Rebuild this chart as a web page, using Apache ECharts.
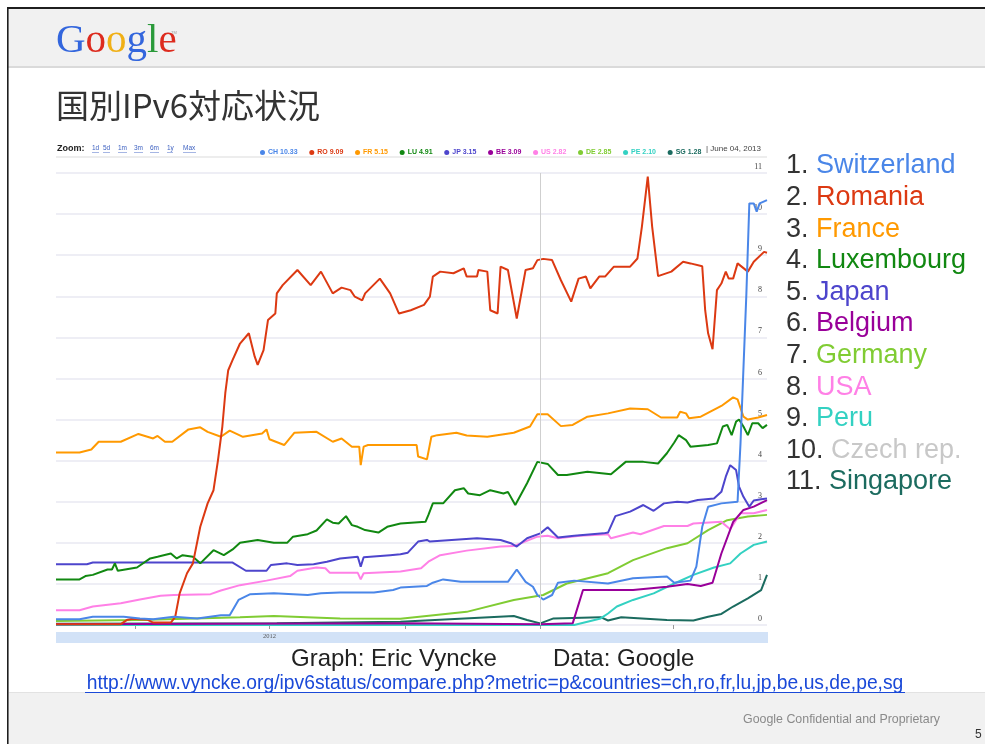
<!DOCTYPE html>
<html><head><meta charset="utf-8">
<script src="https://cdn.jsdelivr.net/npm/echarts@6/dist/echarts.min.js"></script>
<style>html,body{margin:0;padding:0;background:#fff}#c{width:985px;height:744px}</style>
</head><body><div id="c"></div>
<script>
// ---- time frame ----
const startDate = '2012-02-07';
const endDate = '2013-06-04';
const quarterStarts = ['2012-04-01', '2012-07-01', '2012-10-01', '2013-01-01', '2013-04-01'];
const yearLabelDates = ['2012-07-01'];
const yearLabelTexts = ['2012'];
const yearBoundary = '2013-01-01';
const lastDateText = 'June 04, 2013';

// ---- series (x = days since startDate, y = % IPv6) ----
const codes = ['CH', 'RO', 'FR', 'LU', 'JP', 'BE', 'US', 'DE', 'PE', 'SG'];
const latestValues = ['10.33', '9.09', '5.15', '4.91', '3.15', '3.09', '2.82', '2.85', '2.10', '1.28'];
const seriesColors = ['#4a86e8', '#dc3912', '#ff9900', '#118811', '#4d45cc', '#990099', '#ff80e6', '#80cc33', '#33d1c2', '#1b6b5f'];

const CH = [[0,0.14],[16,0.14],[25,0.2],[46,0.2],[57,0.16],[66,0.14],[80,0.2],[96,0.16],[112,0.24],[118,0.24],[124,0.61],[132,0.75],[148,0.77],[171,0.73],[180,0.77],[193,0.79],[216,0.79],[229,0.85],[234,0.91],[252,0.95],[256,1.03],[263,1.11],[275,1.05],[307,1.05],[313,1.35],[319,1.05],[324,0.93],[327,0.73],[331,0.62],[337,0.73],[341,1.03],[352,1.08],[375,1.01],[392,1.14],[415,1.18],[420,1.03],[431,1.08],[435,1.42],[439,2.39],[443,2.88],[452,2.96],[463,3.0],[465,4.42],[469,8.07],[471,10.26],[474,10.26],[476,10.06],[478,10.26],[483,10.34]];
const RO = [[0,0.02],[44,0.02],[48,0.12],[52,0.15],[62,0.13],[66,0.06],[78,0.06],[81,0.2],[84,0.77],[89,1.26],[93,1.5],[98,2.39],[103,2.96],[107,3.28],[110,4.0],[113,4.83],[115,5.64],[117,6.2],[120,6.45],[125,6.85],[131,7.1],[135,6.53],[137,6.33],[141,6.69],[144,7.42],[149,7.58],[150,8.07],[154,8.27],[164,8.64],[173,8.27],[180,8.6],[188,8.07],[194,8.21],[200,8.15],[203,7.99],[208,7.9],[210,8.07],[220,8.43],[227,8.07],[233,7.58],[241,7.66],[250,7.79],[254,7.99],[256,8.48],[261,8.6],[270,8.56],[277,8.68],[279,8.48],[286,8.48],[287,8.64],[293,8.6],[295,7.66],[300,7.58],[302,8.72],[307,8.64],[313,7.46],[319,8.64],[324,8.68],[327,8.88],[331,8.91],[337,8.88],[343,8.39],[350,7.87],[355,8.43],[360,8.48],[363,8.19],[369,8.48],[373,8.48],[379,8.72],[390,8.72],[395,8.92],[398,9.69],[402,10.91],[405,9.69],[409,8.49],[418,8.6],[426,8.84],[431,8.8],[439,8.73],[441,7.66],[443,7.1],[446,6.71],[449,8.15],[452,8.31],[455,8.6],[457,8.43],[460,8.43],[463,8.8],[470,8.6],[474,8.84],[481,9.08],[483,9.06]];
const FR = [[0,4.2],[16,4.2],[24,4.27],[29,4.46],[44,4.46],[56,4.65],[66,4.54],[69,4.6],[74,4.46],[79,4.46],[90,4.76],[98,4.81],[103,4.7],[112,4.58],[118,4.73],[127,4.58],[140,4.66],[143,4.76],[145,4.52],[155,4.38],[162,4.68],[177,4.7],[188,4.46],[194,4.54],[201,4.34],[206,4.34],[207,3.89],[209,4.34],[212,4.38],[234,4.38],[245,4.38],[246,4.1],[252,4.03],[255,4.58],[259,4.62],[272,4.68],[279,4.61],[293,4.58],[311,4.68],[322,4.83],[327,5.13],[334,5.13],[343,4.84],[351,4.87],[361,5.07],[375,5.15],[390,5.27],[402,5.25],[411,5.05],[422,5.05],[424,5.19],[428,5.15],[430,5.03],[438,5.07],[452,5.33],[460,5.54],[463,5.49],[467,5.07],[470,5.0],[477,5.05],[483,5.11]];
const LU = [[0,1.11],[16,1.11],[20,1.19],[25,1.22],[35,1.35],[38,1.35],[40,1.5],[42,1.32],[55,1.4],[64,1.62],[69,1.66],[78,1.74],[82,1.62],[86,1.7],[93,1.66],[98,1.5],[107,1.82],[114,1.7],[120,1.84],[125,2.0],[137,2.07],[148,2.0],[157,2.0],[161,2.15],[171,2.21],[177,2.3],[184,2.57],[188,2.49],[192,2.47],[197,2.65],[201,2.43],[205,2.39],[210,2.31],[219,2.25],[225,2.39],[234,2.47],[251,2.51],[253,2.68],[256,2.96],[263,2.96],[271,3.28],[277,3.33],[280,3.2],[288,3.16],[295,3.28],[304,3.2],[307,3.24],[312,2.92],[320,3.45],[327,3.97],[334,3.92],[341,3.65],[347,3.65],[361,3.73],[377,3.67],[387,3.97],[399,3.97],[409,3.93],[415,4.18],[420,4.44],[423,4.62],[428,4.5],[431,4.34],[443,4.38],[449,4.42],[453,4.83],[456,4.87],[459,4.62],[462,4.95],[464,5.0],[467,4.83],[470,4.62],[473,4.91],[477,4.91],[480,4.79],[483,4.87]];
const JP = [[0,1.48],[21,1.48],[25,1.52],[120,1.52],[129,1.32],[143,1.32],[146,1.46],[157,1.5],[164,1.46],[175,1.48],[184,1.54],[193,1.62],[205,1.66],[207,1.42],[209,1.65],[227,1.7],[234,1.72],[239,1.76],[246,2.03],[252,2.07],[254,2.03],[286,2.11],[302,2.07],[309,1.99],[313,1.91],[320,2.11],[329,2.23],[334,2.38],[341,2.13],[352,2.17],[372,2.23],[375,2.25],[380,2.65],[390,2.76],[399,2.92],[406,2.78],[413,2.96],[422,3.0],[429,2.98],[436,3.04],[447,3.08],[452,3.24],[455,3.61],[458,3.89],[462,3.77],[464,3.37],[467,3.12],[471,2.88],[474,3.03],[479,3.06],[483,3.08]];
const BE = [[0,0.02],[234,0.04],[329,0.02],[351,0.04],[358,0.85],[361,0.85],[392,0.85],[415,0.93],[429,1.0],[438,0.95],[446,1.03],[452,1.74],[460,2.51],[467,2.8],[474,2.88],[483,3.04]];
const US = [[0,0.36],[16,0.36],[25,0.45],[44,0.53],[57,0.62],[71,0.71],[80,0.73],[105,0.75],[112,0.84],[125,0.97],[143,1.08],[159,1.19],[164,1.32],[177,1.4],[183,1.38],[186,1.27],[205,1.27],[207,1.11],[209,1.26],[234,1.3],[248,1.38],[253,1.54],[261,1.7],[279,1.81],[302,1.91],[311,1.92],[327,2.15],[334,2.17],[341,2.11],[356,2.17],[375,2.21],[377,2.11],[392,2.25],[397,2.21],[413,2.41],[429,2.41],[433,2.47],[452,2.51],[458,2.33],[465,2.72],[474,2.72],[483,2.8]];
const DE = [[0,0.1],[57,0.12],[125,0.19],[148,0.22],[193,0.16],[234,0.15],[279,0.32],[311,0.61],[331,0.73],[347,1.01],[375,1.26],[392,1.58],[415,1.87],[429,1.99],[443,2.31],[456,2.55],[470,2.64],[483,2.68]];
const PE = [[0,0.0],[352,0.0],[370,0.16],[375,0.28],[381,0.45],[392,0.61],[406,0.77],[420,1.01],[433,1.22],[447,1.4],[458,1.5],[465,1.74],[474,1.95],[483,2.03]];
const SG = [[0,0.03],[150,0.04],[234,0.08],[311,0.22],[320,0.12],[329,0.04],[338,0.16],[370,0.19],[375,0.11],[384,0.19],[415,0.12],[433,0.11],[443,0.2],[452,0.27],[460,0.45],[470,0.65],[479,0.85],[483,1.22]];
const seriesData = [CH, RO, FR, LU, JP, BE, US, DE, PE, SG];

// ---- ranking list ----
const rankNames = ['Switzerland', 'Romania', 'France', 'Luxembourg', 'Japan', 'Belgium', 'Germany', 'USA', 'Peru', 'Czech rep.', 'Singapore'];
const rankColors = ['#4a86e8', '#dc3912', '#ff9900', '#118811', '#4d45cc', '#990099', '#80cc33', '#ff80e6', '#33d1c2', '#c8c8c8', '#1b6b5f'];

// ---- texts ----
const slideTitle = '国別IPv6対応状況';
const zoomLinks = ['1d', '5d', '1m', '3m', '6m', '1y', 'Max'];
const creditGraph = 'Graph: Eric Vyncke';
const creditData = 'Data: Google';
const sourceUrl = 'http://www.vyncke.org/ipv6status/compare.php?metric=p&countries=ch,ro,fr,lu,jp,be,us,de,pe,sg';
const footerText = 'Google Confidential and Proprietary';
const pageNumber = '5';
const yMax = 11;

const dayOf = s => Math.round((Date.parse(s) - Date.parse(startDate)) / 864e5);
const SANS = '"Liberation Sans", Arial, sans-serif';
const SERIF = '"Liberation Serif", "DejaVu Serif", serif';

const chart = echarts.init(document.getElementById('c'), null, {renderer: 'canvas'});

const graphic = [];
// slide frame & bands
graphic.push({type: 'rect', z: -20, shape: {x: 8, y: 8, width: 977, height: 59}, style: {fill: '#f1f1f1'}});
graphic.push({type: 'rect', z: -19, shape: {x: 8, y: 66, width: 977, height: 2}, style: {fill: '#dadada'}});
graphic.push({type: 'rect', z: -19, shape: {x: 7, y: 7, width: 978, height: 2}, style: {fill: '#1e1e1e'}});
graphic.push({type: 'rect', z: -19, shape: {x: 7, y: 7, width: 1.6, height: 737}, style: {fill: '#1e1e1e'}});
graphic.push({type: 'rect', z: -20, shape: {x: 9, y: 693, width: 976, height: 51}, style: {fill: '#f1f1f1'}});
graphic.push({type: 'rect', z: -19, shape: {x: 9, y: 692, width: 976, height: 1}, style: {fill: '#e2e2e2'}});
// Google logo
const logoLetters = ['G', 'o', 'o', 'g', 'l', 'e'];
const logoColors = ['#3366dd', '#dd2b1e', '#f0b016', '#3366dd', '#2a9a3a', '#dd2b1e'];
const logoRich = {};
logoLetters.forEach((l, i) => { logoRich['l' + i] = {fill: logoColors[i], fontSize: 41, fontFamily: SERIF}; });
graphic.push({type: 'text', style: {x: 56, y: 41, text: logoLetters.map((l, i) => '{l' + i + '|' + l + '}').join(''), rich: logoRich, verticalAlign: 'middle', fontSize: 41, fontFamily: SERIF}});
graphic.push({type: 'text', style: {x: 171, y: 31, text: 'TM', fontSize: 4, fontFamily: SANS, fill: '#999'}});
// Title
graphic.push({type: 'text', style: {x: 56, y: 105, text: slideTitle, fontSize: 33, fontFamily: '"Noto Sans CJK JP", sans-serif', fill: '#333', verticalAlign: 'middle'}});
// toolbar
graphic.push({type: 'text', style: {x: 57, y: 148.5, text: 'Zoom:', fontSize: 9, fontWeight: 'bold', fontFamily: SANS, fill: '#222', verticalAlign: 'middle'}});
const zoomX = [92, 103, 118, 134, 150, 167, 183];
const zoomW = [7, 7, 9, 9, 9, 6, 13];
zoomLinks.forEach((z, i) => {
  graphic.push({type: 'text', style: {x: zoomX[i], y: 148.5, text: z, fontSize: 6.5, fontFamily: SANS, fill: '#3b5fc0', verticalAlign: 'middle'}});
  graphic.push({type: 'rect', shape: {x: zoomX[i], y: 152, width: zoomW[i], height: 0.6}, style: {fill: '#6b86d0'}});
});
graphic.push({type: 'rect', z: -5, shape: {x: 56, y: 156, width: 711, height: 2}, style: {fill: '#ededed'}});
graphic.push({type: 'text', style: {x: 706, y: 148.5, text: '| ' + lastDateText, fontSize: 8, fontFamily: SANS, fill: '#444', verticalAlign: 'middle'}});
// range band under the axis
graphic.push({type: 'rect', z: -5, shape: {x: 56, y: 632, width: 712, height: 11}, style: {fill: '#d2e2f7'}});
// ranking list
rankNames.forEach((n, i) => {
  graphic.push({type: 'text', style: {x: 786, y: 166 + i * 31.6, verticalAlign: 'middle',
    text: '{n|' + (i + 1) + '. }{c|' + n + '}',
    rich: {n: {fontSize: 27, fontFamily: SANS, fill: '#333'}, c: {fontSize: 27, fontFamily: SANS, fill: rankColors[i]}}}});
});
// credits
graphic.push({type: 'text', style: {x: 291, y: 659, text: creditGraph, fontSize: 24, fontFamily: SANS, fill: '#222', verticalAlign: 'middle'}});
graphic.push({type: 'text', style: {x: 553, y: 659, text: creditData, fontSize: 24, fontFamily: SANS, fill: '#222', verticalAlign: 'middle'}});
graphic.push({type: 'text', style: {x: 495, y: 684, text: sourceUrl, fontSize: 19.3, fontFamily: SANS, fill: '#1a49d8', align: 'center', verticalAlign: 'middle'}});
graphic.push({type: 'rect', shape: {x: 85, y: 692, width: 820, height: 1}, style: {fill: '#1a49d8'}});
graphic.push({type: 'text', style: {x: 940, y: 720, text: footerText, fontSize: 12.4, fontFamily: SANS, fill: '#8a8a8a', align: 'right', verticalAlign: 'middle'}});
graphic.push({type: 'text', style: {x: 975, y: 735, text: pageNumber, fontSize: 12, fontFamily: SANS, fill: '#333', verticalAlign: 'middle'}});

const latestMap = {};
codes.forEach((c, i) => { latestMap[c] = latestValues[i]; });

const option = {
  backgroundColor: '#fff',
  animation: false,
  graphic: graphic,
  legend: {
    left: 255, top: 144, icon: 'circle', itemWidth: 5, itemHeight: 5, itemGap: 11.7,
    selectedMode: false,
    textStyle: {fontSize: 7, fontWeight: 'bold', fontFamily: SANS, padding: [0, 0, 0, -2]},
    formatter: name => name + ' ' + latestMap[name],
    data: codes.map((c, i) => ({name: c, textStyle: {color: seriesColors[i]}}))
  },
  grid: {left: 56, right: 218, top: 173, bottom: 119, containLabel: false},
  xAxis: {
    type: 'value', min: 0, max: dayOf(endDate),
    axisLine: {show: false},
    splitLine: {show: false},
    axisTick: {show: true, length: 4, lineStyle: {color: '#999'}, customValues: quarterStarts.map(dayOf)},
    axisLabel: {customValues: yearLabelDates.map(dayOf), formatter: v => yearLabelTexts[yearLabelDates.map(dayOf).indexOf(v)] || '',
      fontSize: 6.5, color: '#555', fontFamily: SERIF, margin: 8}
  },
  yAxis: {
    type: 'value', min: 0, max: yMax, interval: 1, position: 'right',
    axisLine: {show: false}, axisTick: {show: false},
    axisLabel: {inside: true, margin: 5, fontSize: 8, color: '#444', fontFamily: SERIF, verticalAlign: 'bottom', lineHeight: 12},
    splitLine: {lineStyle: {color: '#e9e9f2', width: 1.5}}
  },
  series: codes.map((c, i) => ({
    name: c, type: 'line', data: seriesData[i], showSymbol: false, symbol: 'none',
    color: seriesColors[i], lineStyle: {width: 2, color: seriesColors[i]},
    z: 3 + (codes.length - i) * 0.01,
    markLine: i === 0 ? {silent: true, symbol: 'none', label: {show: false},
      lineStyle: {color: '#cfcfcf', width: 1, type: 'solid'}, data: [{xAxis: dayOf(yearBoundary)}]} : undefined
  }))
};
chart.setOption(option);
</script></body></html>
